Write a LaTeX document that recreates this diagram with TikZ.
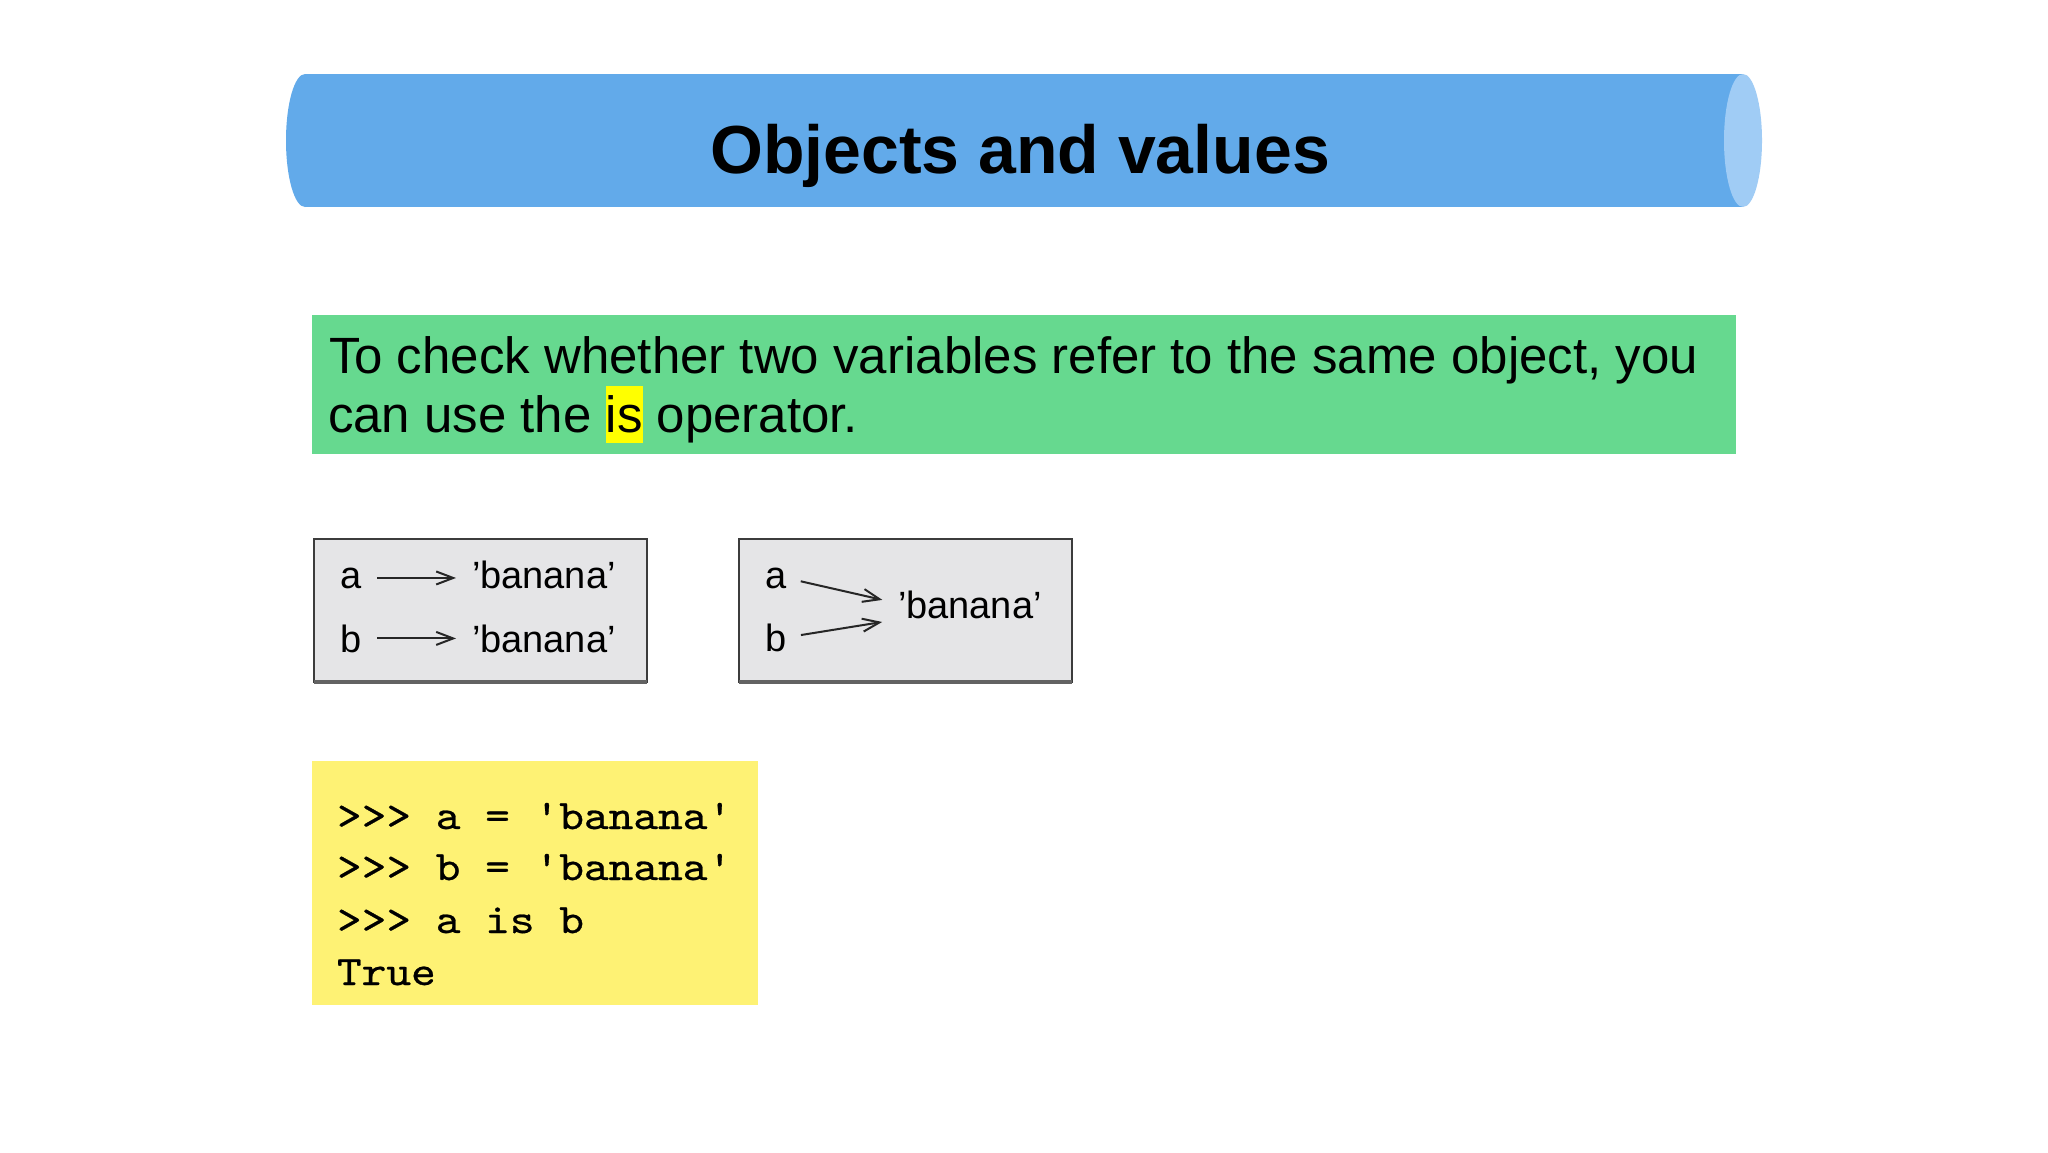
\documentclass[tikz,border=0pt]{standalone}
\usepackage{fontspec}
\setmainfont{Liberation Sans}
\newfontfamily\codefont{lmmono10-regular.otf}[FakeStretch=1.12,FakeBold=0.6]
\usetikzlibrary{arrows.meta}
\definecolor{bannerblue}{RGB}{98,170,234}
\definecolor{capblue}{RGB}{160,204,245}
\definecolor{notegreen}{RGB}{102,217,143}
\definecolor{hlyellow}{RGB}{255,255,0}
\definecolor{codeyellow}{RGB}{254,242,116}
\definecolor{boxgrey}{RGB}{229,229,231}
\definecolor{boxedge}{RGB}{60,60,60}
\newcommand\hlword[1]{{\setlength{\fboxsep}{0pt}\colorbox{hlyellow}{\rule[-11pt]{0pt}{57pt}#1}}}
\tikzset{
  txt/.style={inner sep=0pt, outer sep=0pt, anchor=base west},
  notefont/.style={font=\fontsize{51}{61}\selectfont},
  diagfont/.style={font=\fontsize{38}{46}\selectfont},
  codefnt/.style={font=\codefont\fontsize{42}{52}\selectfont},
  diagbox/.style={fill=boxgrey, draw=boxedge, line width=2.2pt},
  refarrow/.style={line width=2pt, draw=black!85,
    -{Straight Barb[length=17pt,width=13pt,line width=2pt]}}
}
\begin{document}
\begin{tikzpicture}[x=1pt,y=-1pt]
\useasboundingbox (0,0) rectangle (2048,1152);
\fill[white] (0,0) rectangle (2048,1152);

% title banner (horizontal cylinder)
\fill[bannerblue] (305,74) rectangle (1743,207);
\fill[bannerblue] (305,140.5) ellipse [x radius=19, y radius=66.5];
\fill[capblue] (1743,140.5) ellipse [x radius=19, y radius=66.5];
\node[inner sep=0pt, anchor=base, font=\fontsize{68}{80}\selectfont\bfseries] (title) at (1020,173) {Objects and values};

% green note
\fill[notegreen] (312,315) rectangle (1736,454);
\node[txt, notefont] (line1) at (329,373) {To check whether two variables refer to the same object, you};
\node[txt, notefont] (line2) at (328,432) {can use the \hlword{is} operator.};

% left diagram: two strings
\draw[diagbox] (314,539) rectangle (647,682);
\draw[boxedge!80, line width=3.5pt] (314,682) -- (647,682);
\node[txt, diagfont] (a1) at (340,588) {a};
\node[txt, diagfont] (b1) at (340,652) {b};
\node[txt, diagfont] (s1) at (472,588) {’banana’};
\node[txt, diagfont] (s2) at (472,652) {’banana’};
\draw[refarrow, shorten <=16pt, shorten >=16pt] (a1.east) -- (a1.east -| s1.west);
\draw[refarrow, shorten <=16pt, shorten >=16pt] (b1.east) -- (b1.east -| s2.west);

% right diagram: one shared string
\draw[diagbox] (739,539) rectangle (1072,682);
\draw[boxedge!80, line width=3.5pt] (739,682) -- (1072,682);
\node[txt, diagfont] (a2) at (765,588) {a};
\node[txt, diagfont] (b2) at (765,651) {b};
\node[txt, diagfont] (s3) at (898,618) {’banana’};
\draw[refarrow, shorten <=15pt, shorten >=16pt] (a2.east) -- ([yshift=1pt]s3.west);
\draw[refarrow, shorten <=15pt, shorten >=16pt] (b2.east) -- ([yshift=-15pt]s3.west);

% code box
\fill[codeyellow] (312,761) rectangle (758,1005);
\node[txt, codefnt] (c1) at (337,829) {>>> a = 'banana'};
\node[txt, codefnt] (c2) at (337,880) {>>> b = 'banana'};
\node[txt, codefnt] (c3) at (337,933) {>>> a is b};
\node[txt, codefnt] (c4) at (337,985) {True};
\end{tikzpicture}
\end{document}
